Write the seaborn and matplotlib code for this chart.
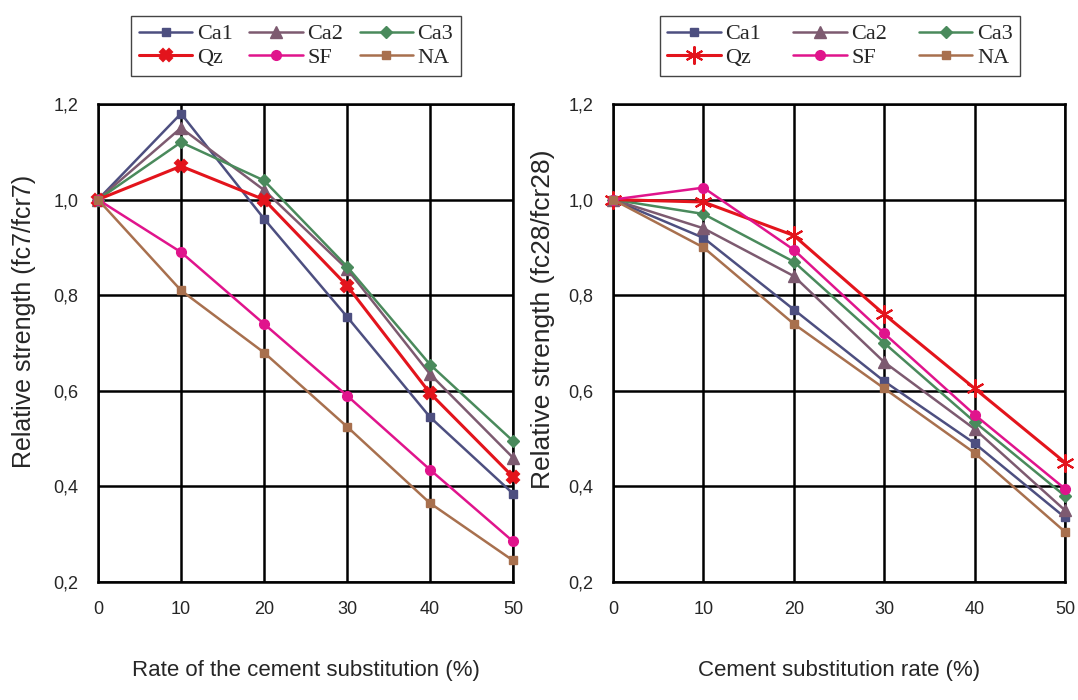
import numpy as np
import pandas as pd
import matplotlib
matplotlib.use("Agg")
import matplotlib.pyplot as plt
from matplotlib.ticker import FuncFormatter
import seaborn as sns

sns.set_style("white")
plt.rcParams["font.family"] = ["Liberation Sans", "DejaVu Sans"]

# Cement substitution rate (%)
rate = [0, 10, 20, 30, 40, 50]

# Relative strength at 7 days (fc7/fcr7)
ca1_7 = [1.0, 1.18, 0.96, 0.755, 0.545, 0.385]
ca2_7 = [1.0, 1.15, 1.02, 0.855, 0.635, 0.46]
ca3_7 = [1.0, 1.12, 1.04, 0.86, 0.655, 0.495]
qz_7 = [1.0, 1.07, 1.0, 0.82, 0.595, 0.42]
sf_7 = [1.0, 0.89, 0.74, 0.59, 0.435, 0.285]
na_7 = [1.0, 0.81, 0.68, 0.525, 0.365, 0.245]

# Relative strength at 28 days (fc28/fcr28)
ca1_28 = [1.0, 0.92, 0.77, 0.62, 0.49, 0.335]
ca2_28 = [1.0, 0.94, 0.84, 0.66, 0.52, 0.35]
ca3_28 = [1.0, 0.97, 0.87, 0.70, 0.535, 0.38]
qz_28 = [1.0, 0.995, 0.925, 0.76, 0.605, 0.45]
sf_28 = [1.0, 1.025, 0.895, 0.72, 0.55, 0.395]
na_28 = [1.0, 0.90, 0.74, 0.605, 0.47, 0.305]

names = ["Ca1", "Ca2", "Ca3", "Qz", "SF", "NA"]
colors = ["#4d4f80", "#7d5a70", "#4a8a5c", "#e3141c", "#e0148c", "#a8704e"]

series_7 = [ca1_7, ca2_7, ca3_7, qz_7, sf_7, na_7]
series_28 = [ca1_28, ca2_28, ca3_28, qz_28, sf_28, na_28]

markers_7 = ["s", "^", "D", "X", "o", "s"]
markers_28 = ["s", "^", "D", (6, 2, 0), "o", "s"]
msizes_7 = [6, 8, 6, 8, 7, 6]
msizes_28 = [6, 8, 6, 13, 7, 6]

fig = plt.figure(figsize=(10.78, 7.0), dpi=100)
ax1 = fig.add_axes([98 / 1078, 1 - 582 / 700, 415 / 1078, 478 / 700])
ax2 = fig.add_axes([613 / 1078, 1 - 582 / 700, 452 / 1078, 478 / 700])

comma = FuncFormatter(lambda v, p: f"{v:.1f}".replace(".", ","))


def draw(ax, data, markers, msizes, ylabel, xlabel, ysize, ycoords):
    for name, vals, col, mk, ms in zip(names, data, colors, markers, msizes):
        df = pd.DataFrame({"rate": rate, "strength": vals})
        lw = 2.2 if name == "Qz" else 1.8
        sns.lineplot(data=df, x="rate", y="strength", ax=ax, color=col,
                     marker=mk, markersize=ms, markeredgecolor=col,
                     markeredgewidth=1.5 if name == "Qz" else 1,
                     linewidth=lw, label=name, clip_on=False, zorder=3)
    ax.set_xlim(0, 50)
    ax.set_ylim(0.2, 1.2)
    ax.set_xticks(rate)
    ax.set_yticks([0.2, 0.4, 0.6, 0.8, 1.0, 1.2])
    ax.yaxis.set_major_formatter(comma)
    ax.grid(True, color="black", linewidth=1.8, zorder=0)
    ax.set_axisbelow(True)
    for sp in ax.spines.values():
        sp.set_color("black")
        sp.set_linewidth(1.8)
    ax.tick_params(axis="both", direction="out", length=6, width=1.2,
                   color="#555555", labelsize=13, pad=8)
    ax.set_xlabel(xlabel, fontsize=16, labelpad=30)
    ax.set_ylabel(ylabel, fontsize=ysize)
    ax.yaxis.set_label_coords(*ycoords)
    ax.get_legend().remove()


draw(ax1, series_7, markers_7, msizes_7, "Relative strength (fc7/fcr7)",
     "Rate of the cement substitution (%)", 18, (-0.15, 0.545))
draw(ax2, series_28, markers_28, msizes_28, "Relative strength (fc28/fcr28)",
     "Cement substitution rate (%)", 19, (-0.128, 0.55))

# legend filled row by row: Ca1 Ca2 Ca3 / Qz SF NA
order = [0, 3, 1, 4, 2, 5]
for ax, cx, cs in [(ax1, 296 / 1078, 0.75), (ax2, 840 / 1078, 1.45)]:
    h, l = ax.get_legend_handles_labels()
    fig.legend([h[i] for i in order], [l[i] for i in order], loc="center",
               bbox_to_anchor=(cx, 1 - 46 / 700), ncol=3,
               frameon=True, fancybox=False, edgecolor="#444444",
               prop={"family": "Liberation Serif", "size": 16},
               handlelength=2.4, handletextpad=0.2, columnspacing=cs,
               labelspacing=0.15, borderpad=0.35, framealpha=1)

fig.savefig("out.png", dpi=100)
